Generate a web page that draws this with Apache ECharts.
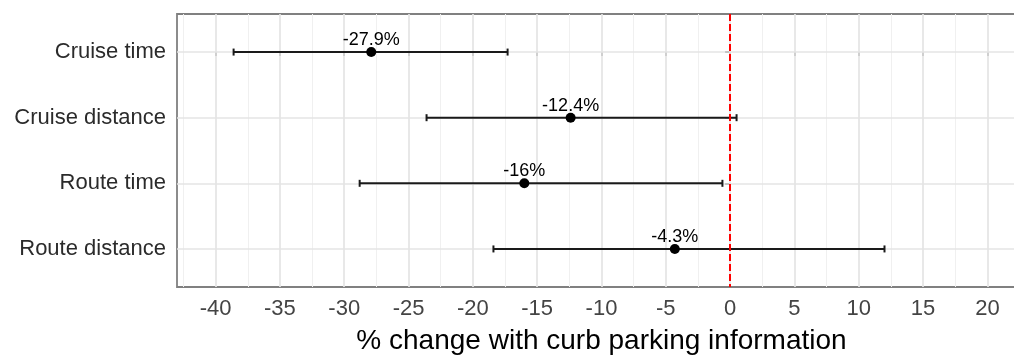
<!DOCTYPE html>
<html>
<head>
<meta charset="utf-8">
<script src="https://cdn.jsdelivr.net/npm/echarts@6/dist/echarts.min.js"></script>
<style>
html,body{margin:0;padding:0;background:#fff;}
#chart{width:1014px;height:356px;}
</style>
</head>
<body>
<div id="chart"></div>
<script>
const categories = ['Cruise time', 'Cruise distance', 'Route time', 'Route distance'];
const estimates = [-27.9, -12.4, -16, -4.3];
const lowerCI = [-38.6, -23.6, -28.8, -18.4];
const upperCI = [-17.3, 0.5, -0.6, 12.0];
const pointLabels = ['-27.9%', '-12.4%', '-16%', '-4.3%'];
const xTickValues = [-40, -35, -30, -25, -20, -15, -10, -5, 0, 5, 10, 15, 20];
const xMinorValues = [-42.5, -37.5, -32.5, -27.5, -22.5, -17.5, -12.5, -7.5, -2.5, 2.5, 7.5, 12.5, 17.5, 22.5];
const referenceValue = 0;
const xTitle = '% change with curb parking information';

const catIdx = categories.map((c, i) => i);
const FONT = '"Liberation Sans", Arial, Helvetica, sans-serif';

const chart = echarts.init(document.getElementById('chart'), null, {renderer: 'canvas'});

const gridLines = []
  .concat(xMinorValues.map(v => ({xAxis: v, lineStyle: {color: '#f0f0f0', width: 1, type: 'solid'}})))
  .concat(xTickValues.map(v => ({xAxis: v, lineStyle: {color: '#e4e4e4', width: 1.7, type: 'solid'}})))
  .concat(catIdx.map(i => ({yAxis: i, lineStyle: {color: '#e4e4e4', width: 1.7, type: 'solid'}})));

const option = {
  animation: false,
  backgroundColor: '#fff',
  grid: {
    left: 177, top: 14, width: 849, height: 273,
    outerBoundsMode: 'none', containLabel: false,
    show: true, backgroundColor: '#fff', borderColor: '#808080', borderWidth: 1.8
  },
  xAxis: {
    type: 'value', min: -43, max: 23,
    splitLine: {show: false},
    axisLine: {show: false},
    axisTick: {show: true, customValues: xTickValues, length: 4, lineStyle: {color: '#333', width: 1.6}},
    axisLabel: {customValues: xTickValues, fontSize: 22, color: '#444', fontFamily: FONT, margin: 11},
    name: xTitle, nameLocation: 'middle', nameGap: 40,
    nameTextStyle: {fontSize: 28, color: '#000', fontFamily: FONT}
  },
  yAxis: {
    type: 'value', inverse: true, min: -0.58, max: 3.58,
    splitLine: {show: false},
    axisLine: {show: false},
    axisTick: {show: true, customValues: catIdx, length: 5, lineStyle: {color: '#333', width: 1.6}},
    axisLabel: {customValues: catIdx, formatter: v => categories[Math.round(v)], fontSize: 22, color: '#2b2b2b', fontFamily: FONT, margin: 11}
  },
  series: [
    {
      type: 'scatter', data: [], z: 1, silent: true,
      markLine: {silent: true, symbol: 'none', z: 1, label: {show: false}, animation: false, data: gridLines}
    },
    {
      type: 'custom', z: 3,
      data: catIdx.map(i => [lowerCI[i], upperCI[i], i]),
      encode: {x: [0, 1], y: 2},
      renderItem: function (params, api) {
        const i = api.value(2);
        const p1 = api.coord([api.value(0), i]);
        const p2 = api.coord([api.value(1), i]);
        const h = 3.5;
        const st = {stroke: '#1a1a1a', lineWidth: 2};
        return {
          type: 'group',
          children: [
            {type: 'line', shape: {x1: p1[0], y1: p1[1], x2: p2[0], y2: p2[1]}, style: st},
            {type: 'line', shape: {x1: p1[0], y1: p1[1] - h, x2: p1[0], y2: p1[1] + h}, style: st},
            {type: 'line', shape: {x1: p2[0], y1: p2[1] - h, x2: p2[0], y2: p2[1] + h}, style: st}
          ]
        };
      }
    },
    {
      type: 'scatter', z: 4,
      data: catIdx.map(i => [estimates[i], i]),
      symbol: 'circle', symbolSize: 10,
      itemStyle: {color: '#000', opacity: 1},
      label: {
        show: true, position: 'top', distance: -2,
        formatter: p => pointLabels[p.dataIndex],
        fontSize: 18, color: '#000', fontFamily: FONT
      }
    },
    {
      type: 'scatter', data: [], z: 5, silent: true,
      markLine: {
        silent: true, symbol: 'none', z: 5, label: {show: false},
        lineStyle: {color: '#ff0000', type: [7, 3], width: 2},
        data: [{xAxis: referenceValue}]
      }
    }
  ]
};
chart.setOption(option);
</script>
</body>
</html>
